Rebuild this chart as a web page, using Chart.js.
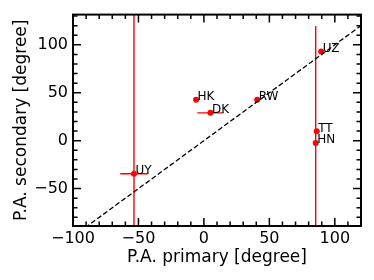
<!DOCTYPE html>
<html>
<head>
<meta charset="utf-8">
<style>
html, body { margin: 0; padding: 0; background: #fff; }
#wrap { width: 374px; height: 280px; }
</style>
<script src="https://cdn.jsdelivr.net/npm/chart.js@4.4.0/dist/chart.umd.min.js"></script>
</head>
<body>
<div id="wrap"><canvas id="grafico" width="374" height="280"></canvas></div>
<script>
// datos
var etiquetas = ['UZ', 'HK', 'DK', 'RW', 'TT', 'HN', 'UY'];
var paPrimario = [89.6, -6, 5, 40.7, 86.2, 85.4, -53.4];
var paSecundario = [93, 42.6, 29, 42.6, 9.7, -2.3, -34.5];
var errorX = [0, 0, 10, 0, 0, 0, 10.5];
var errorY = [0, 0, 0, 0, 0, 122, 200];
var lineaUno = [-100, 135];
var ticksX = [-100, -50, 0, 50, 100];
var ticksY = [-50, 0, 50, 100];

var fuente = 'DejaVu Sans';
var rojo = '#ff0000';

var puntos = paPrimario.map(function (x, i) {
    return { x: x, y: paSecundario[i] };
});
var diagonal = lineaUno.map(function (v) {
    return { x: v, y: v };
});

function menos(valor) {
    return String(valor).replace('-', '\u2212');
}

// barras de error debajo de los puntos
var barrasError = {
    id: 'barrasError',
    beforeDatasetsDraw: function (chart) {
        var ctx = chart.ctx;
        var ca = chart.chartArea;
        var ex = chart.scales.x;
        var ey = chart.scales.y;
        ctx.save();
        ctx.beginPath();
        ctx.rect(ca.left, ca.top, ca.right - ca.left, ca.bottom - ca.top);
        ctx.clip();
        ctx.strokeStyle = rojo;
        ctx.lineWidth = 1.4;
        paPrimario.forEach(function (x, i) {
            var y = paSecundario[i];
            if (errorX[i] > 0) {
                ctx.beginPath();
                ctx.moveTo(ex.getPixelForValue(x - errorX[i]), ey.getPixelForValue(y));
                ctx.lineTo(ex.getPixelForValue(x + errorX[i]), ey.getPixelForValue(y));
                ctx.stroke();
            }
            if (errorY[i] > 0) {
                ctx.beginPath();
                ctx.moveTo(ex.getPixelForValue(x), ey.getPixelForValue(y - errorY[i]));
                ctx.lineTo(ex.getPixelForValue(x), ey.getPixelForValue(y + errorY[i]));
                ctx.stroke();
            }
        });
        ctx.restore();
    }
};

// nombres junto a cada punto
var nombres = {
    id: 'nombres',
    afterDatasetsDraw: function (chart) {
        var ctx = chart.ctx;
        var ex = chart.scales.x;
        var ey = chart.scales.y;
        ctx.save();
        ctx.fillStyle = '#000';
        ctx.font = '12px "' + fuente + '"';
        ctx.textAlign = 'left';
        ctx.textBaseline = 'alphabetic';
        etiquetas.forEach(function (txt, i) {
            ctx.fillText(txt, ex.getPixelForValue(paPrimario[i]) + 1.5, ey.getPixelForValue(paSecundario[i]) + 0.5);
        });
        ctx.restore();
    }
};

// marco y ticks hacia adentro en los cuatro lados
var marco = {
    id: 'marco',
    afterDraw: function (chart) {
        var ctx = chart.ctx;
        var ca = chart.chartArea;
        var ex = chart.scales.x;
        var ey = chart.scales.y;
        ctx.save();
        ctx.strokeStyle = '#000';
        ctx.lineWidth = 1.5;
        var v, p, largo;
        for (v = Math.ceil(ex.min / 10) * 10; v <= ex.max; v += 10) {
            p = ex.getPixelForValue(v);
            largo = (v % 50 === 0) ? 8 : 4.5;
            ctx.beginPath();
            ctx.moveTo(p, ca.bottom); ctx.lineTo(p, ca.bottom - largo);
            ctx.moveTo(p, ca.top); ctx.lineTo(p, ca.top + largo);
            ctx.stroke();
        }
        for (v = Math.ceil(ey.min / 10) * 10; v <= ey.max; v += 10) {
            p = ey.getPixelForValue(v);
            largo = (v % 50 === 0) ? 8 : 4.5;
            ctx.beginPath();
            ctx.moveTo(ca.left, p); ctx.lineTo(ca.left + largo, p);
            ctx.moveTo(ca.right, p); ctx.lineTo(ca.right - largo, p);
            ctx.stroke();
        }
        ctx.lineWidth = 2;
        ctx.strokeRect(ca.left, ca.top, ca.right - ca.left, ca.bottom - ca.top);
        ctx.restore();
    }
};

var ctx = document.getElementById('grafico');
var grafico = new Chart(ctx, {
    type: 'scatter',
    data: {
        datasets: [{
            type: 'line',
            data: diagonal,
            borderColor: '#000',
            borderWidth: 1.3,
            borderDash: [5, 2.5],
            pointRadius: 0,
            fill: false,
        }, {
            data: puntos,
            backgroundColor: rojo,
            borderColor: rojo,
            borderWidth: 0,
            pointRadius: 3,
        }],
    },
    options: {
        responsive: false,
        animation: false,
        layout: { padding: { top: 13, right: 13, left: 0, bottom: 0 } },
        plugins: {
            legend: { display: false },
            tooltip: { enabled: false },
        },
        scales: {
            x: {
                type: 'linear',
                min: -100,
                max: 120,
                grid: { display: false, drawTicks: false },
                border: { display: false },
                afterBuildTicks: function (escala) {
                    escala.ticks = ticksX.map(function (v) { return { value: v }; });
                },
                afterFit: function (escala) { escala.height = 54; },
                ticks: {
                    padding: 3,
                    color: '#000',
                    font: { family: fuente, size: 16 },
                    maxRotation: 0,
                    autoSkip: false,
                    callback: function (v) { return menos(v); },
                },
                title: {
                    display: true,
                    text: 'P.A. primary [degree]',
                    color: '#000',
                    font: { family: fuente, size: 17 },
                    padding: { top: 0, bottom: 12 },
                },
            },
            y: {
                type: 'linear',
                min: -89,
                max: 131.5,
                grid: { display: false, drawTicks: false },
                border: { display: false },
                afterBuildTicks: function (escala) {
                    escala.ticks = ticksY.map(function (v) { return { value: v }; });
                },
                afterFit: function (escala) { escala.width = 73; },
                ticks: {
                    padding: 5,
                    color: '#000',
                    font: { family: fuente, size: 16 },
                    autoSkip: false,
                    callback: function (v) { return menos(v); },
                },
                title: {
                    display: true,
                    text: 'P.A. secondary [degree]',
                    color: '#000',
                    font: { family: fuente, size: 17 },
                    padding: { top: 11, bottom: 0 },
                },
            },
        },
    },
    plugins: [barrasError, nombres, marco],
});
</script>
</body>
</html>
